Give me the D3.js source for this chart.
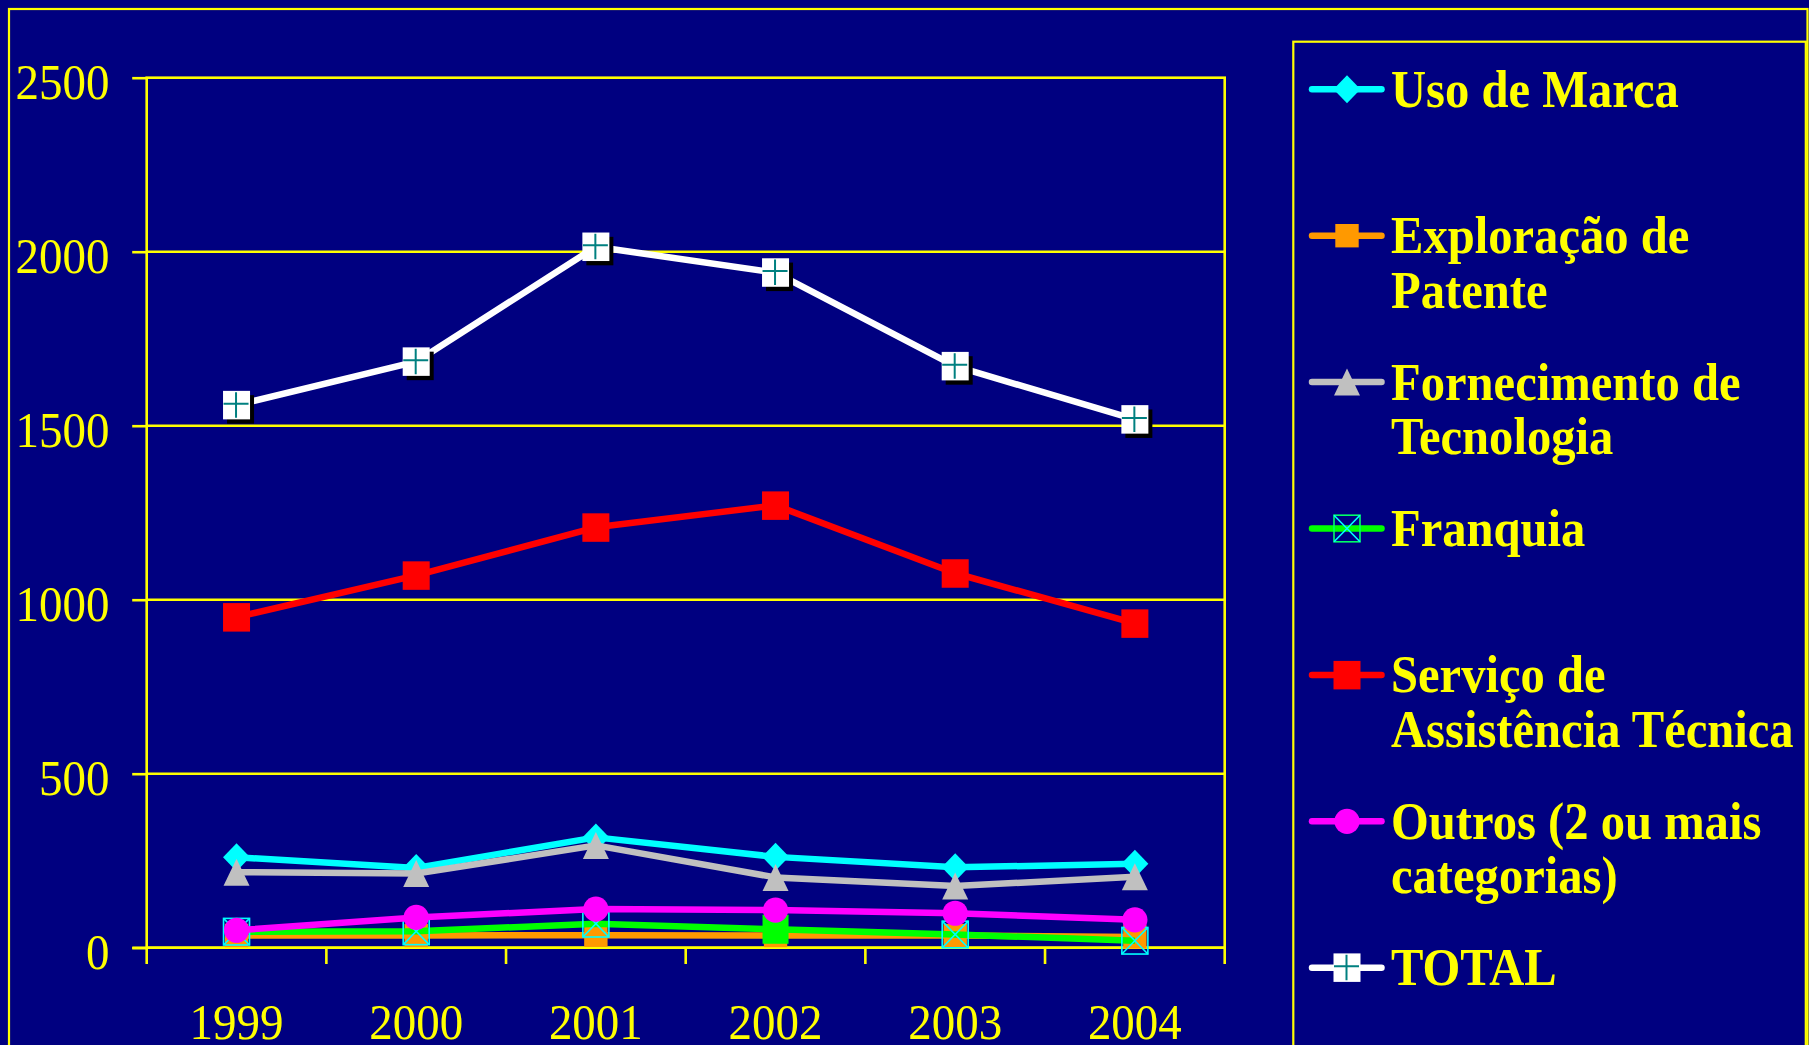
<!DOCTYPE html>
<html><head><meta charset="utf-8">
<script src="https://cdn.jsdelivr.net/npm/d3@7"></script>
<style>html,body{margin:0;padding:0;background:#000080;overflow:hidden}</style>
</head><body><svg id="c" width="1809" height="1045"></svg>
<script>
const years = ["1999","2000","2001","2002","2003","2004"];
const usoDeMarca = [260, 229, 317, 261, 231, 241];
const exploracaoPatente = [35, 35, 36, 35, 35, 31];
const fornecimentoTecnologia = [217, 213, 294, 202, 177, 204];
const franquia = [46, 47, 69, 53, 38, 20];
const servicoAssistencia = [950, 1070, 1208, 1271, 1076, 932];
const outros = [50, 87, 111, 108, 99, 80];
const total = [1559, 1684, 2014, 1940, 1671, 1518];
const yTicks = [0, 500, 1000, 1500, 2000, 2500];
const legendLabels = [["Uso de Marca"], ["Exploração de","Patente"], ["Fornecimento de","Tecnologia"], ["Franquia"], ["Serviço de","Assistência Técnica"], ["Outros (2 ou mais","categorias)"], ["TOTAL"]];

const YEL = "#FFFF00";
const series = [
  {values: usoDeMarca, color: "#00FFFF", marker: "diamond"},
  {values: exploracaoPatente, color: "#FF9900", marker: "square"},
  {values: fornecimentoTecnologia, color: "#C0C0C0", marker: "triangle"},
  {values: franquia, color: "#00FF00", marker: "xsquare", filledAt: [3]},
  {values: servicoAssistencia, color: "#FF0000", marker: "bigsquare"},
  {values: outros, color: "#FF00FF", marker: "circle"},
  {values: total, color: "#FFFFFF", marker: "total"}
];

const svg = d3.select("#c");
const L = 146.7, R = 1224.7, T = 77.7, B = 947.7;
const x = d3.scaleBand().domain(years).range([L, R]).padding(0);
const y = d3.scaleLinear().domain([0, 2500]).range([B, T]);
const cx = d => x(d) + x.bandwidth() / 2;
const SY = 1.1;

// outer border
svg.append("rect").attr("x", 9).attr("y", 9).attr("width", 1798.5).attr("height", 1200)
  .attr("fill", "none").attr("stroke", YEL).attr("stroke-width", 2.2);

// gridlines
svg.append("g").selectAll("line").data(yTicks.filter(v => v > 0 && v < 2500)).join("line")
  .attr("x1", L).attr("x2", R).attr("y1", d => y(d)).attr("y2", d => y(d))
  .attr("stroke", YEL).attr("stroke-width", 2.4);

// plot frame
svg.append("rect").attr("x", L).attr("y", T).attr("width", R - L).attr("height", B - T)
  .attr("fill", "none").attr("stroke", YEL).attr("stroke-width", 2.6);

// y axis
const yAxis = d3.axisLeft(y).tickValues(yTicks).tickSize(14.5).tickFormat(d => d);
const gy = svg.append("g").attr("transform", `translate(${L},0)`).call(yAxis);
gy.select(".domain").remove();
gy.selectAll(".tick line").attr("stroke", YEL).attr("stroke-width", 2.6);
gy.selectAll(".tick text").remove();
gy.selectAll(".tick").append("text")
  .attr("transform", `translate(${109.5 - L},21) scale(1,${SY})`)
  .attr("text-anchor", "end").attr("fill", YEL)
  .attr("font-family", "'Liberation Serif','Times New Roman',serif").attr("font-size", 47)
  .text(d => d);

// x axis tick marks at category boundaries
const bounds = years.map(d => x(d)).concat([R]);
svg.append("g").selectAll("line").data(bounds).join("line")
  .attr("x1", d => d).attr("x2", d => d).attr("y1", B).attr("y2", 964)
  .attr("stroke", YEL).attr("stroke-width", 2.6);
svg.append("line").attr("x1", 132.3).attr("x2", R).attr("y1", B).attr("y2", B)
  .attr("stroke", YEL).attr("stroke-width", 2.6);

// x labels
const xAxis = d3.axisBottom(x).tickSize(0);
const gx = svg.append("g").attr("transform", `translate(0,${B})`).call(xAxis);
gx.select(".domain").remove();
gx.selectAll(".tick text").remove();
gx.selectAll(".tick").append("text")
  .attr("transform", `translate(0,${1039 - B}) scale(1,${SY})`)
  .attr("text-anchor", "middle").attr("fill", YEL)
  .attr("font-family", "'Liberation Serif','Times New Roman',serif").attr("font-size", 47)
  .text(d => d);

function drawMarker(g, type, color, px, py, opts) {
  opts = opts || {};
  const m = g.append("g").attr("transform", `translate(${px},${py})`);
  if (type === "diamond") {
    m.append("path").attr("d", "M0,-14L13.5,0L0,14L-13.5,0Z").attr("fill", color);
  } else if (type === "square") {
    m.append("rect").attr("x", -11.7).attr("y", -11.7).attr("width", 23.4).attr("height", 23.4).attr("fill", color);
  } else if (type === "triangle") {
    m.append("path").attr("d", "M0,-13.5L13,13.5L-13,13.5Z").attr("fill", color);
  } else if (type === "xsquare") {
    const st = opts.legend ? "#00FF66" : "#00FFFF";
    if (opts.filled) {
      m.append("rect").attr("x", -13).attr("y", -14.5).attr("width", 26).attr("height", 29).attr("fill", color);
    } else {
      m.append("rect").attr("x", -13).attr("y", -13.3).attr("width", 26).attr("height", 26.6)
        .attr("fill", "none").attr("stroke", st).attr("stroke-width", 1.6);
      m.append("path").attr("d", "M-13,-13.3L13,13.3M13,-13.3L-13,13.3")
        .attr("stroke", "#00FFFF").attr("stroke-width", 1.6).attr("fill", "none");
    }
  } else if (type === "bigsquare") {
    m.append("rect").attr("x", -13.5).attr("y", -14).attr("width", 27).attr("height", 28.5).attr("fill", color);
  } else if (type === "circle") {
    m.append("ellipse").attr("rx", 12.6).attr("ry", 12.6).attr("fill", color);
  } else if (type === "total") {
    if (!opts.legend) {
      m.append("rect").attr("x", -9.5).attr("y", -10).attr("width", 27).attr("height", 28.5).attr("fill", "#000000");
    }
    m.append("rect").attr("x", -13.5).attr("y", -14.3).attr("width", 27).attr("height", 28.5).attr("fill", color);
    m.append("path").attr("d", "M-13,-1.5H12M-0.5,-13V12.5")
      .attr("stroke", "#008080").attr("stroke-width", 2).attr("fill", "none");
  }
}

// series
const line = d3.line().x((v, i) => cx(years[i])).y(v => y(v));
series.forEach(s => {
  const g = svg.append("g");
  g.append("path").attr("d", line(s.values)).attr("fill", "none")
    .attr("stroke", s.color).attr("stroke-width", 6.5).attr("stroke-linejoin", "round");
  s.values.forEach((v, i) => {
    drawMarker(g, s.marker, s.color, cx(years[i]), y(v), {filled: s.filledAt && s.filledAt.includes(i)});
  });
});

// legend
svg.append("rect").attr("x", 1293.3).attr("y", 41.7).attr("width", 512.5).attr("height", 1200)
  .attr("fill", "none").attr("stroke", YEL).attr("stroke-width", 2.2);
const lg = svg.append("g");
series.forEach((s, i) => {
  const my = 89.3 + i * 146.4;
  lg.append("line").attr("x1", 1312).attr("x2", 1381.5).attr("y1", my).attr("y2", my)
    .attr("stroke", s.color).attr("stroke-width", 6.5).attr("stroke-linecap", "round");
  drawMarker(lg, s.marker, s.color, 1347, my, {legend: true});
  legendLabels[i].forEach((t, j) => {
    lg.append("text")
      .attr("transform", `translate(1391,${my + 17.5 + j * 54.5}) scale(1,${SY})`)
      .attr("fill", YEL).attr("font-weight", "bold")
      .attr("font-family", "'Liberation Serif','Times New Roman',serif").attr("font-size", 48.6)
      .text(t);
  });
});
</script></body></html>
